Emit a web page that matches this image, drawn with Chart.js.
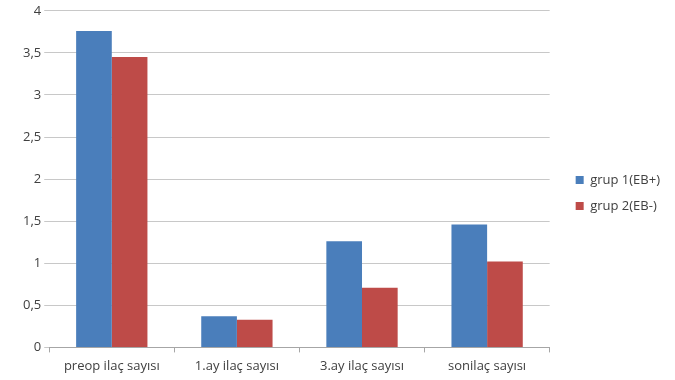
<!DOCTYPE html>
<html>
<head>
<meta charset="utf-8">
<script src="https://cdn.jsdelivr.net/npm/chart.js@4/dist/chart.umd.min.js"></script>
<style>
  body { margin: 0; background: #fff; }
</style>
</head>
<body>
<canvas id="chart" width="675" height="380"></canvas>
<script>
var categories = ['preop ilaç sayısı', '1.ay ilaç sayısı', '3.ay ilaç sayısı', 'sonilaç sayısı'];
var grup1 = [3.76, 0.37, 1.26, 1.46];
var grup2 = [3.45, 0.33, 0.71, 1.02];
var seriesNames = ['grup 1(EB+)', 'grup 2(EB-)'];

// extra room between the plot and the legend
var legendGap = 13;
var legendShift = {
    id: 'legendShift',
    afterLayout: function (chart) {
        chart.legend.left += legendGap;
        chart.legend.right += legendGap;
    }
};

var ctx = document.getElementById('chart').getContext('2d');
var chart = new Chart(ctx, {
    type: 'bar',
    data: {
        labels: categories,
        datasets: [{
            label: seriesNames[0],
            backgroundColor: '#4A7EBB',
            data: grup1
        }, {
            label: seriesNames[1],
            backgroundColor: '#BE4B48',
            data: grup2
        }]
    },
    options: {
        responsive: false,
        animation: false,
        categoryPercentage: 0.57,
        barPercentage: 1.0,
        layout: { padding: { top: 6, left: 20, right: 5 + legendGap, bottom: 0 } },
        plugins: {
            legend: {
                position: 'right',
                labels: {
                    boxWidth: 8,
                    boxHeight: 8,
                    padding: 13,
                    color: '#404040',
                    font: { family: 'Open Sans', size: 13 }
                }
            },
            tooltip: { enabled: false }
        },
        scales: {
            x: {
                grid: {
                    drawOnChartArea: false,
                    drawTicks: true,
                    tickLength: 5,
                    color: '#a6a6a6'
                },
                border: { display: true, color: '#a6a6a6' },
                ticks: {
                    color: '#404040',
                    font: { family: 'Open Sans', size: 13 },
                    padding: 6
                }
            },
            y: {
                min: 0,
                max: 4,
                ticks: {
                    stepSize: 0.5,
                    color: '#404040',
                    font: { family: 'Open Sans', size: 13 },
                    padding: 3,
                    callback: function (v) { return String(v).replace('.', ','); }
                },
                grid: {
                    color: '#c8c8c8',
                    drawTicks: true,
                    tickLength: 5
                },
                border: { display: false }
            }
        }
    },
    plugins: [legendShift]
});
</script>
</body>
</html>
